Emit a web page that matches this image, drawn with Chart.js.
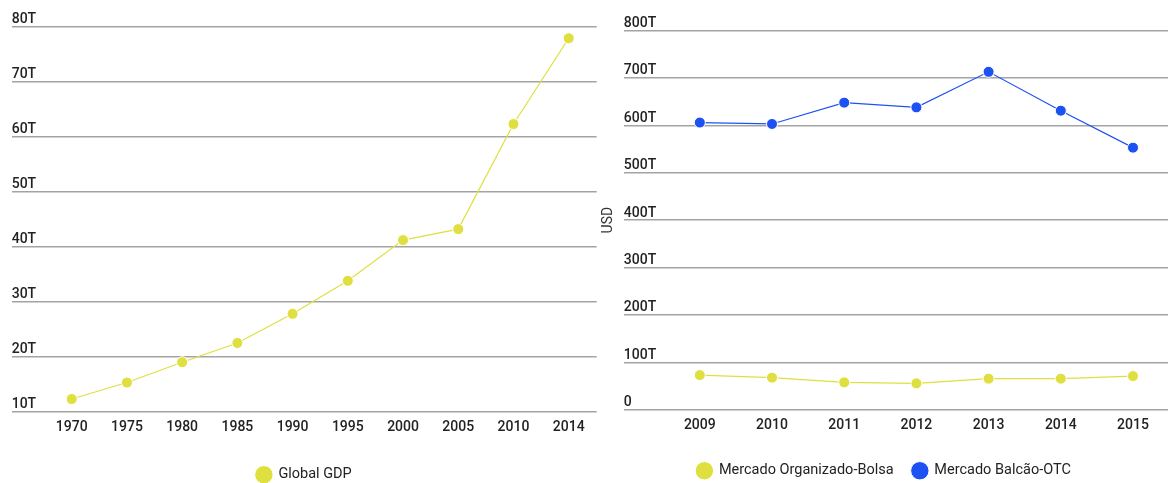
<!DOCTYPE html>
<html>
<head>
<meta charset="utf-8">
<script src="https://cdn.jsdelivr.net/npm/chart.js@4"></script>
<style>
  body { margin: 0; background: #fff; width: 1168px; height: 483px; position: relative; overflow: hidden; }
  canvas { position: absolute; top: 0; }
  #gdp { left: 0; }
  #mkt { left: 600px; }
</style>
</head>
<body>
<canvas id="gdp" width="600" height="492"></canvas>
<canvas id="mkt" width="568" height="488"></canvas>
<script>
// Global GDP, trillions USD
const gdpYears = ["1970", "1975", "1980", "1985", "1990", "1995", "2000", "2005", "2010", "2014"];
const gdpValues = [12.3, 15.3, 19.0, 22.5, 27.8, 33.8, 41.2, 43.2, 62.3, 77.9];

// Derivatives markets, trillions USD
const mktYears = ["2009", "2010", "2011", "2012", "2013", "2014", "2015"];
const bolsaValues = [73, 67.6, 57.7, 55.6, 65.5, 65.5, 71];
const otcValues = [606, 603, 648, 638, 713, 631, 553];

const YELLOW = "#dfdf3f";
const BLUE = "#1d51f2";
const GRID = "#a3a3a3";

Chart.defaults.font.family = "Roboto";
Chart.defaults.font.size = 14;
Chart.defaults.color = "#222";

const toPoints = (vals) => vals.map((v, i) => ({ x: i, y: v }));

const lineSet = (label, vals, color) => ({
  label,
  data: toPoints(vals),
  borderColor: color,
  backgroundColor: color,
  borderWidth: 1.2,
  pointRadius: 5.5,
  pointBorderColor: "#fff",
  pointBorderWidth: 1,
  pointBackgroundColor: color,
  tension: 0
});

// index-based x axis so the year ticks sit where they should inside the grid
const xAxis = (labels, min, max, extra) => ({
  type: "linear",
  min,
  max,
  grid: { display: false, drawTicks: false },
  border: { display: false },
  afterBuildTicks: (scale) => {
    scale.ticks = labels.map((_, i) => ({ value: i }));
  },
  afterFit: (scale) => {
    scale.height += extra;
    scale.paddingLeft = 0;
    scale.paddingRight = 0;
  },
  ticks: {
    padding: 7,
    maxRotation: 0,
    autoSkip: false,
    font: { weight: 500 },
    callback: (v) => labels[v]
  }
});

const yAxis = (min, max, step) => ({
  min,
  max,
  grid: { color: GRID, lineWidth: 1.5, drawTicks: false },
  border: { display: false },
  ticks: {
    stepSize: step,
    mirror: true,
    padding: 0,
    labelOffset: -7,
    font: { weight: 500 },
    callback: (v) => (v === 0 ? "0" : v + "T")
  }
});

const legendOpts = {
  position: "bottom",
  labels: {
    usePointStyle: true,
    pointStyle: "circle",
    boxHeight: 13,
    boxWidth: 14.5,
    padding: 19,
    color: "#222",
    font: { size: 14.5 }
  }
};

new Chart(document.getElementById("gdp"), {
  type: "line",
  data: { datasets: [lineSet("Global GDP", gdpValues, YELLOW)] },
  options: {
    responsive: false,
    animation: false,
    layout: { autoPadding: false, padding: { left: 11.7, right: 3.3, top: 26.7, bottom: 0 } },
    plugins: { legend: legendOpts, tooltip: { enabled: false } },
    scales: {
      x: xAxis(gdpYears, -1.087, 9.507, 6),
      y: yAxis(10, 80, 10)
    }
  }
});

const mktY = yAxis(0, 800, 100);
mktY.title = { display: true, text: "USD", color: "#333", font: { size: 14 }, padding: { top: 0, bottom: 7 } };

new Chart(document.getElementById("mkt"), {
  type: "line",
  data: {
    datasets: [
      lineSet("Mercado Organizado-Bolsa", bolsaValues, YELLOW),
      lineSet("Mercado Balcão-OTC", otcValues, BLUE)
    ]
  },
  options: {
    responsive: false,
    animation: false,
    layout: { autoPadding: false, padding: { left: 0, right: 0, top: 30.6, bottom: 0 } },
    plugins: { legend: legendOpts, tooltip: { enabled: false } },
    scales: {
      x: xAxis(mktYears, -1.053, 6.485, 4),
      y: mktY
    }
  }
});
</script>
</body>
</html>
